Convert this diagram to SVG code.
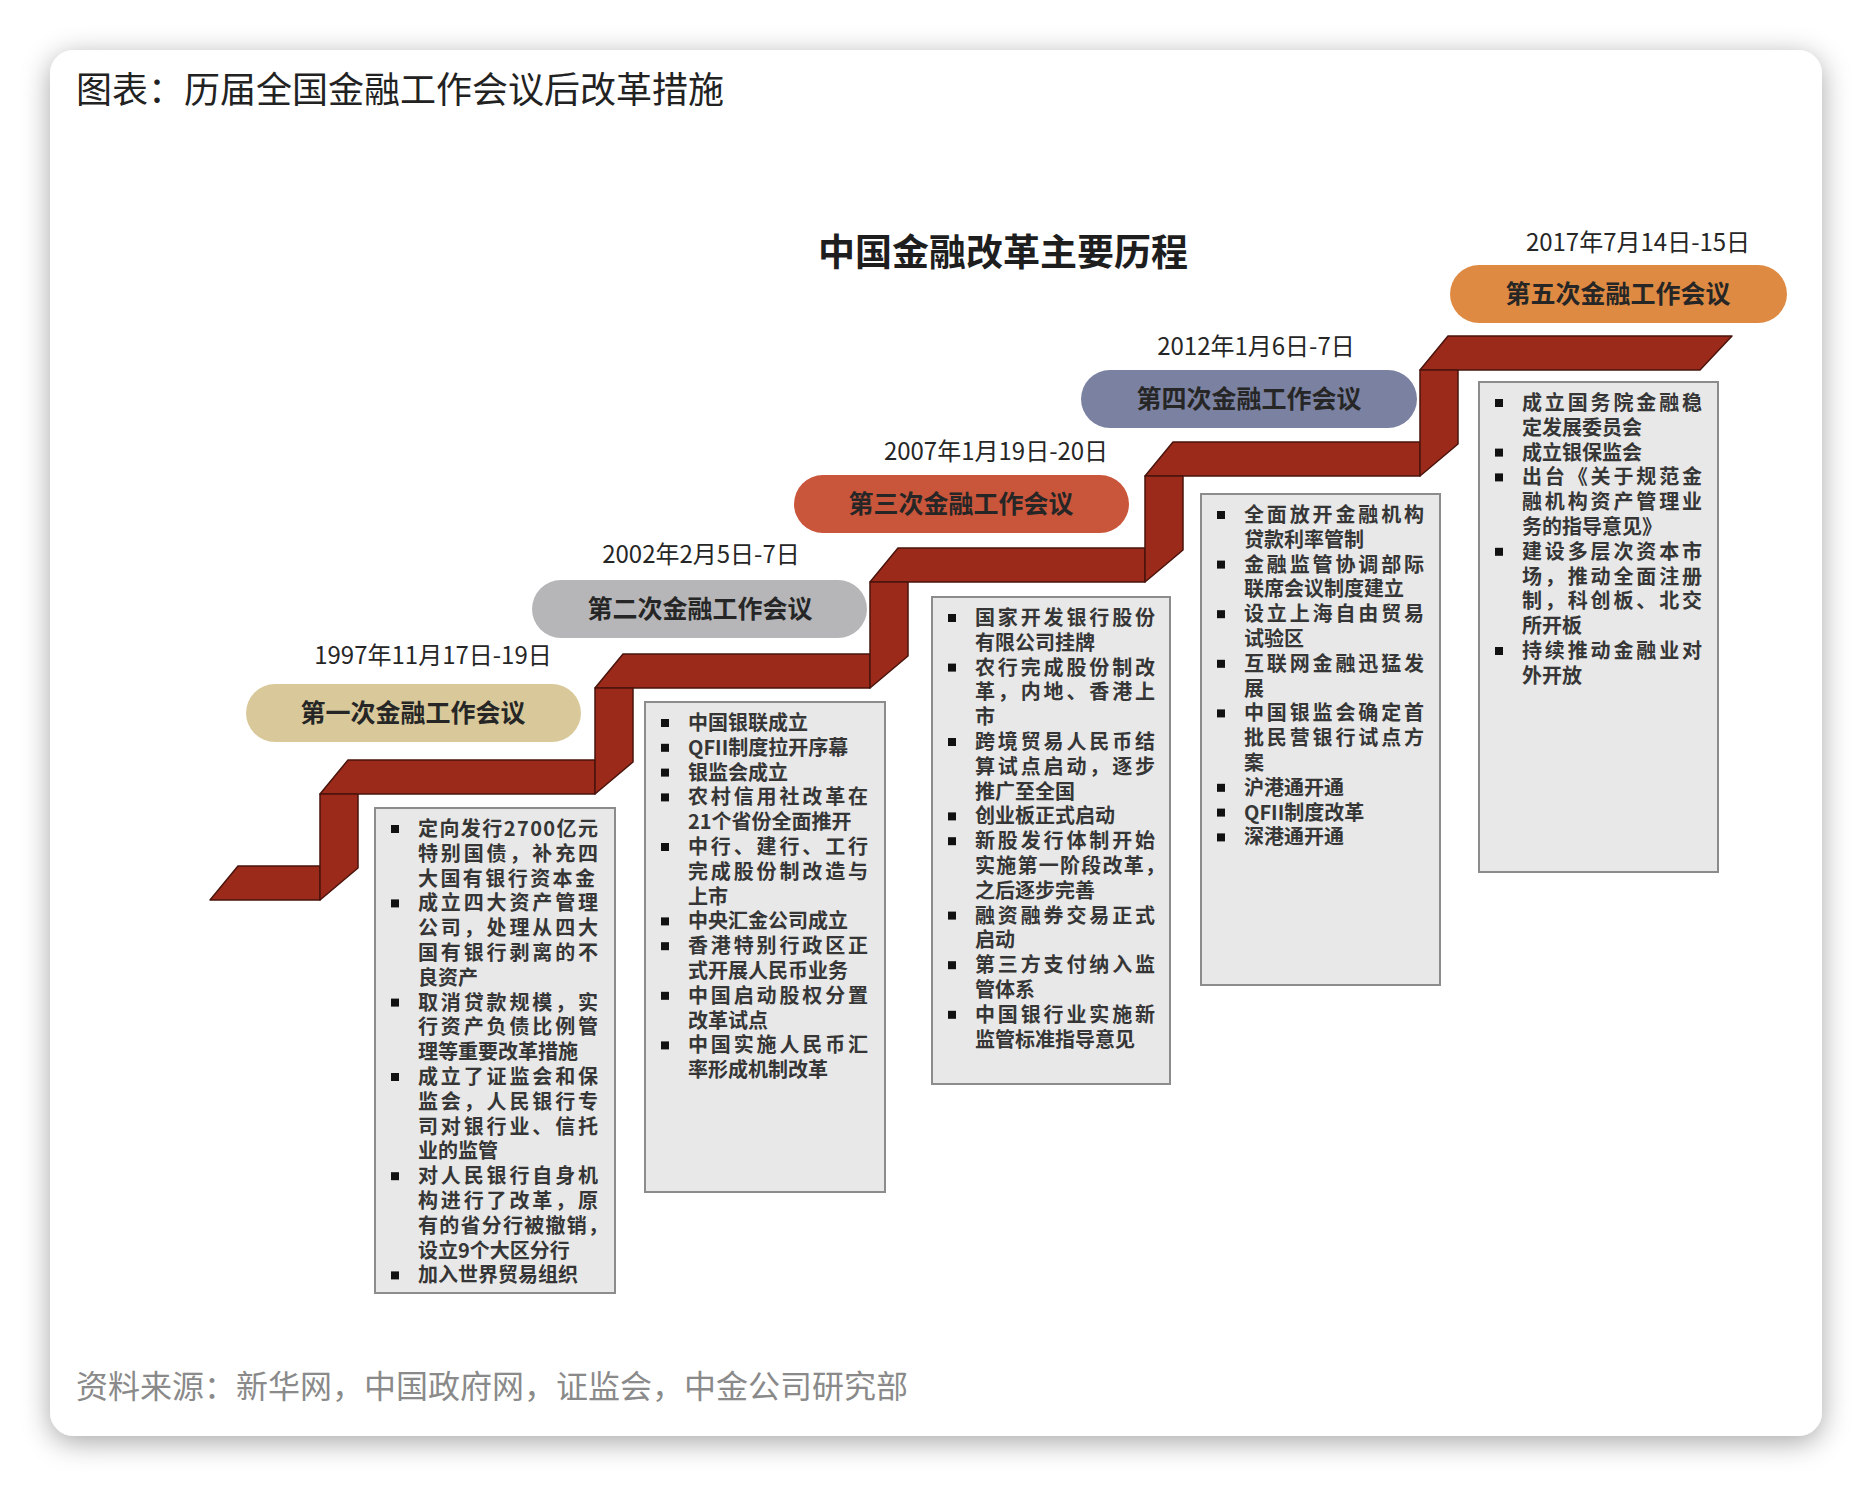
<svg xmlns="http://www.w3.org/2000/svg" width="1872" height="1488" viewBox="0 0 1872 1488">
<defs>
<filter id="cardShadow" x="-10%" y="-10%" width="120%" height="120%">
<feDropShadow dx="0" dy="6" stdDeviation="14" flood-color="#000" flood-opacity="0.35"/>
</filter>
<style>
.cjk{font-family:"Noto Sans CJK SC","Noto Sans",sans-serif;}
.title{font-size:36px;fill:#222;}
.src{font-size:32px;fill:#8a8a8a;}
.main{font-size:37px;font-weight:bold;fill:#1e1e1e;}
.date{font-size:24px;fill:#262626;text-anchor:middle;}
.pilltxt{font-size:25px;font-weight:bold;fill:#262626;text-anchor:middle;}
.box{fill:#e8e8e8;stroke:#8c8c8c;stroke-width:2;}
.it{font-size:20px;font-weight:bold;fill:#363636;}
.bul{fill:#111;}
.rib{fill:#9b2a1a;stroke:#4a140c;stroke-width:1.5;stroke-linejoin:round;}
</style>
</defs>
<rect x="0" y="0" width="1872" height="1488" fill="#ffffff"/>
<rect x="50" y="50" width="1772" height="1386" rx="24" ry="24" fill="#ffffff" filter="url(#cardShadow)"/>

<text class="cjk title" x="76" y="103">图表：历届全国金融工作会议后改革措施</text>
<text class="cjk main" x="1003" y="266" text-anchor="middle">中国金融改革主要历程</text>

<g id="staircase">
<polygon class="rib" points="210,900 238,866 320,866 320,900"/>
<polygon class="rib" points="320,794 348,760 595,760 595,794"/>
<polygon class="rib" points="595,688 623,654 870,654 870,688"/>
<polygon class="rib" points="870,582 898,548 1145,548 1145,582"/>
<polygon class="rib" points="1145,476 1173,442 1420,442 1420,476"/>
<polygon class="rib" points="1420,370 1448,336 1732,336 1700,370"/>
<polygon class="rib" points="320,794 358,794 358,868 320,900"/>
<polygon class="rib" points="595,688 633,688 633,762 595,794"/>
<polygon class="rib" points="870,582 908,582 908,656 870,688"/>
<polygon class="rib" points="1145,476 1183,476 1183,550 1145,582"/>
<polygon class="rib" points="1420,370 1458,370 1458,444 1420,476"/>
</g>

<g id="meeting1">
<text class="cjk date" x="433" y="664">1997年11月17日-19日</text>
<rect x="246" y="684" width="335" height="58" rx="29" fill="#d9c99a"/>
<text class="cjk pilltxt" x="413" y="722">第一次金融工作会议</text>
</g>
<g id="meeting2">
<text class="cjk date" x="701" y="563">2002年2月5日-7日</text>
<rect x="532" y="580" width="335" height="58" rx="29" fill="#b6b6b8"/>
<text class="cjk pilltxt" x="700" y="618">第二次金融工作会议</text>
</g>
<g id="meeting3">
<text class="cjk date" x="996" y="460">2007年1月19日-20日</text>
<rect x="794" y="475" width="335" height="58" rx="29" fill="#c9553b"/>
<text class="cjk pilltxt" x="961" y="513">第三次金融工作会议</text>
</g>
<g id="meeting4">
<text class="cjk date" x="1256" y="355">2012年1月6日-7日</text>
<rect x="1081" y="370" width="336" height="58" rx="29" fill="#7b81a0"/>
<text class="cjk pilltxt" x="1249" y="408">第四次金融工作会议</text>
</g>
<g id="meeting5">
<text class="cjk date" x="1638" y="251">2017年7月14日-15日</text>
<rect x="1450" y="265" width="337" height="58" rx="29" fill="#de8a42"/>
<text class="cjk pilltxt" x="1618" y="303">第五次金融工作会议</text>
</g>

<g id="box1">
<rect class="box" x="375" y="808" width="240" height="485"/>
<rect class="bul" x="391" y="825" width="8" height="8"/>
<rect class="bul" x="391" y="899.4" width="8" height="8"/>
<rect class="bul" x="391" y="998.6" width="8" height="8"/>
<rect class="bul" x="391" y="1073" width="8" height="8"/>
<rect class="bul" x="391" y="1172.2" width="8" height="8"/>
<rect class="bul" x="391" y="1271.4" width="8" height="8"/>
<text class="cjk it" x="418" y="836" textLength="180" lengthAdjust="spacing">定向发行2700亿元</text>
<text class="cjk it" x="418" y="860.8" textLength="180" lengthAdjust="spacing">特别国债，补充四</text>
<text class="cjk it" x="418" y="885.6" textLength="177" lengthAdjust="spacing">大国有银行资本金</text>
<text class="cjk it" x="418" y="910.4" textLength="180" lengthAdjust="spacing">成立四大资产管理</text>
<text class="cjk it" x="418" y="935.2" textLength="180" lengthAdjust="spacing">公司，处理从四大</text>
<text class="cjk it" x="418" y="960" textLength="180" lengthAdjust="spacing">国有银行剥离的不</text>
<text class="cjk it" x="418" y="984.8">良资产</text>
<text class="cjk it" x="418" y="1009.6" textLength="180" lengthAdjust="spacing">取消贷款规模，实</text>
<text class="cjk it" x="418" y="1034.4" textLength="180" lengthAdjust="spacing">行资产负债比例管</text>
<text class="cjk it" x="418" y="1059.2">理等重要改革措施</text>
<text class="cjk it" x="418" y="1084" textLength="180" lengthAdjust="spacing">成立了证监会和保</text>
<text class="cjk it" x="418" y="1108.8" textLength="180" lengthAdjust="spacing">监会，人民银行专</text>
<text class="cjk it" x="418" y="1133.6" textLength="180" lengthAdjust="spacing">司对银行业、信托</text>
<text class="cjk it" x="418" y="1158.4">业的监管</text>
<text class="cjk it" x="418" y="1183.2" textLength="180" lengthAdjust="spacing">对人民银行自身机</text>
<text class="cjk it" x="418" y="1208" textLength="180" lengthAdjust="spacing">构进行了改革，原</text>
<text class="cjk it" x="418" y="1232.8" textLength="190" lengthAdjust="spacing">有的省分行被撤销，</text>
<text class="cjk it" x="418" y="1257.6">设立9个大区分行</text>
<text class="cjk it" x="418" y="1282.4">加入世界贸易组织</text>
</g>

<g id="box2">
<rect class="box" x="645" y="702" width="240" height="490"/>
<rect class="bul" x="661" y="719" width="8" height="8"/>
<rect class="bul" x="661" y="743.8" width="8" height="8"/>
<rect class="bul" x="661" y="768.6" width="8" height="8"/>
<rect class="bul" x="661" y="793.4" width="8" height="8"/>
<rect class="bul" x="661" y="843" width="8" height="8"/>
<rect class="bul" x="661" y="917.4" width="8" height="8"/>
<rect class="bul" x="661" y="942.2" width="8" height="8"/>
<rect class="bul" x="661" y="991.8" width="8" height="8"/>
<rect class="bul" x="661" y="1041.4" width="8" height="8"/>
<text class="cjk it" x="688" y="730">中国银联成立</text>
<text class="cjk it" x="688" y="754.8">QFII制度拉开序幕</text>
<text class="cjk it" x="688" y="779.6">银监会成立</text>
<text class="cjk it" x="688" y="804.4" textLength="180" lengthAdjust="spacing">农村信用社改革在</text>
<text class="cjk it" x="688" y="829.2">21个省份全面推开</text>
<text class="cjk it" x="688" y="854" textLength="180" lengthAdjust="spacing">中行、建行、工行</text>
<text class="cjk it" x="688" y="878.8" textLength="180" lengthAdjust="spacing">完成股份制改造与</text>
<text class="cjk it" x="688" y="903.6">上市</text>
<text class="cjk it" x="688" y="928.4">中央汇金公司成立</text>
<text class="cjk it" x="688" y="953.2" textLength="180" lengthAdjust="spacing">香港特别行政区正</text>
<text class="cjk it" x="688" y="978">式开展人民币业务</text>
<text class="cjk it" x="688" y="1002.8" textLength="180" lengthAdjust="spacing">中国启动股权分置</text>
<text class="cjk it" x="688" y="1027.6">改革试点</text>
<text class="cjk it" x="688" y="1052.4" textLength="180" lengthAdjust="spacing">中国实施人民币汇</text>
<text class="cjk it" x="688" y="1077.2">率形成机制改革</text>
</g>

<g id="box3">
<rect class="box" x="932" y="597" width="238" height="487"/>
<rect class="bul" x="948" y="614" width="8" height="8"/>
<rect class="bul" x="948" y="663.6" width="8" height="8"/>
<rect class="bul" x="948" y="738" width="8" height="8"/>
<rect class="bul" x="948" y="812.4" width="8" height="8"/>
<rect class="bul" x="948" y="837.2" width="8" height="8"/>
<rect class="bul" x="948" y="911.6" width="8" height="8"/>
<rect class="bul" x="948" y="961.2" width="8" height="8"/>
<rect class="bul" x="948" y="1010.8" width="8" height="8"/>
<text class="cjk it" x="975" y="625" textLength="180" lengthAdjust="spacing">国家开发银行股份</text>
<text class="cjk it" x="975" y="649.8">有限公司挂牌</text>
<text class="cjk it" x="975" y="674.6" textLength="180" lengthAdjust="spacing">农行完成股份制改</text>
<text class="cjk it" x="975" y="699.4" textLength="180" lengthAdjust="spacing">革，内地、香港上</text>
<text class="cjk it" x="975" y="724.2">市</text>
<text class="cjk it" x="975" y="749" textLength="180" lengthAdjust="spacing">跨境贸易人民币结</text>
<text class="cjk it" x="975" y="773.8" textLength="180" lengthAdjust="spacing">算试点启动，逐步</text>
<text class="cjk it" x="975" y="798.6">推广至全国</text>
<text class="cjk it" x="975" y="823.4">创业板正式启动</text>
<text class="cjk it" x="975" y="848.2" textLength="180" lengthAdjust="spacing">新股发行体制开始</text>
<text class="cjk it" x="975" y="873" textLength="190" lengthAdjust="spacing">实施第一阶段改革，</text>
<text class="cjk it" x="975" y="897.8">之后逐步完善</text>
<text class="cjk it" x="975" y="922.6" textLength="180" lengthAdjust="spacing">融资融券交易正式</text>
<text class="cjk it" x="975" y="947.4">启动</text>
<text class="cjk it" x="975" y="972.2" textLength="180" lengthAdjust="spacing">第三方支付纳入监</text>
<text class="cjk it" x="975" y="997">管体系</text>
<text class="cjk it" x="975" y="1021.8" textLength="180" lengthAdjust="spacing">中国银行业实施新</text>
<text class="cjk it" x="975" y="1046.6">监管标准指导意见</text>
</g>

<g id="box4">
<rect class="box" x="1201" y="494" width="239" height="491"/>
<rect class="bul" x="1217" y="511" width="8" height="8"/>
<rect class="bul" x="1217" y="560.6" width="8" height="8"/>
<rect class="bul" x="1217" y="610.2" width="8" height="8"/>
<rect class="bul" x="1217" y="659.8" width="8" height="8"/>
<rect class="bul" x="1217" y="709.4" width="8" height="8"/>
<rect class="bul" x="1217" y="783.8" width="8" height="8"/>
<rect class="bul" x="1217" y="808.6" width="8" height="8"/>
<rect class="bul" x="1217" y="833.4" width="8" height="8"/>
<text class="cjk it" x="1244" y="522" textLength="180" lengthAdjust="spacing">全面放开金融机构</text>
<text class="cjk it" x="1244" y="546.8">贷款利率管制</text>
<text class="cjk it" x="1244" y="571.6" textLength="180" lengthAdjust="spacing">金融监管协调部际</text>
<text class="cjk it" x="1244" y="596.4">联席会议制度建立</text>
<text class="cjk it" x="1244" y="621.2" textLength="180" lengthAdjust="spacing">设立上海自由贸易</text>
<text class="cjk it" x="1244" y="646">试验区</text>
<text class="cjk it" x="1244" y="670.8" textLength="180" lengthAdjust="spacing">互联网金融迅猛发</text>
<text class="cjk it" x="1244" y="695.6">展</text>
<text class="cjk it" x="1244" y="720.4" textLength="180" lengthAdjust="spacing">中国银监会确定首</text>
<text class="cjk it" x="1244" y="745.2" textLength="180" lengthAdjust="spacing">批民营银行试点方</text>
<text class="cjk it" x="1244" y="770">案</text>
<text class="cjk it" x="1244" y="794.8">沪港通开通</text>
<text class="cjk it" x="1244" y="819.6">QFII制度改革</text>
<text class="cjk it" x="1244" y="844.4">深港通开通</text>
</g>

<g id="box5">
<rect class="box" x="1479" y="382" width="239" height="490"/>
<rect class="bul" x="1495" y="399" width="8" height="8"/>
<rect class="bul" x="1495" y="448.6" width="8" height="8"/>
<rect class="bul" x="1495" y="473.4" width="8" height="8"/>
<rect class="bul" x="1495" y="547.8" width="8" height="8"/>
<rect class="bul" x="1495" y="647" width="8" height="8"/>
<text class="cjk it" x="1522" y="410" textLength="180" lengthAdjust="spacing">成立国务院金融稳</text>
<text class="cjk it" x="1522" y="434.8">定发展委员会</text>
<text class="cjk it" x="1522" y="459.6">成立银保监会</text>
<text class="cjk it" x="1522" y="484.4" textLength="180" lengthAdjust="spacing">出台《关于规范金</text>
<text class="cjk it" x="1522" y="509.2" textLength="180" lengthAdjust="spacing">融机构资产管理业</text>
<text class="cjk it" x="1522" y="534">务的指导意见》</text>
<text class="cjk it" x="1522" y="558.8" textLength="180" lengthAdjust="spacing">建设多层次资本市</text>
<text class="cjk it" x="1522" y="583.6" textLength="180" lengthAdjust="spacing">场，推动全面注册</text>
<text class="cjk it" x="1522" y="608.4" textLength="180" lengthAdjust="spacing">制，科创板、北交</text>
<text class="cjk it" x="1522" y="633.2">所开板</text>
<text class="cjk it" x="1522" y="658" textLength="180" lengthAdjust="spacing">持续推动金融业对</text>
<text class="cjk it" x="1522" y="682.8">外开放</text>
</g>

<text class="cjk src" x="76" y="1398">资料来源：新华网，中国政府网，证监会，中金公司研究部</text>
</svg>
